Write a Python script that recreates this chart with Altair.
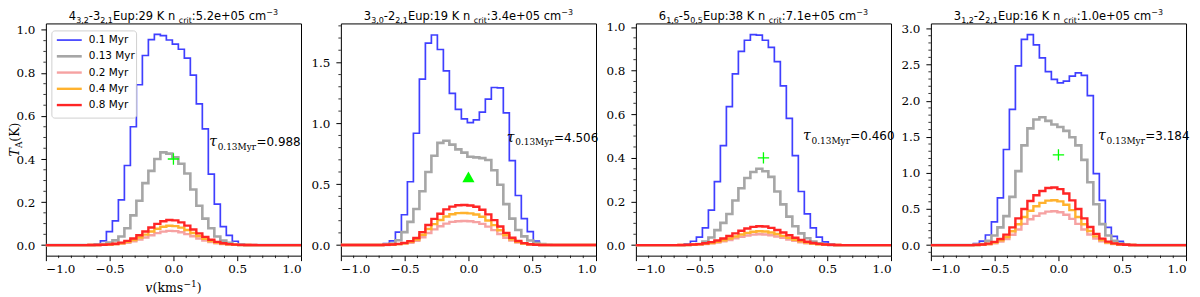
import altair as alt
import pandas as pd

# ---------------- data ----------------
V_CH = [-0.643, -0.596, -0.549, -0.502, -0.455, -0.408, -0.361, -0.314, -0.267, -0.220,
        -0.173, -0.126, -0.079, -0.032, 0.015, 0.062, 0.109, 0.156, 0.203, 0.250,
        0.297, 0.344, 0.391, 0.438, 0.485, 0.532, 0.579, 0.626]
V_EDGE_CH = [-0.690, 0.673]   # empty channels bounding the profiles
V_RANGE = [-1.0, 1.0]

AGES = ["0.1 Myr", "0.13 Myr", "0.2 Myr", "0.4 Myr", "0.8 Myr"]

# panel 1: 4(3,2)-3(2,1)
A_01 = [0.0, 0.005, 0.02, 0.063, 0.113, 0.21, 0.37, 0.55, 0.745, 0.881, 0.955, 0.979, 0.973, 0.953,
        0.934, 0.91, 0.869, 0.79, 0.656, 0.54, 0.33, 0.19, 0.086, 0.045, 0.018, 0.005, 0.0, 0.0]
A_013 = [0.0, 0.002, 0.005, 0.012, 0.022, 0.04, 0.078, 0.138, 0.206, 0.288, 0.345, 0.40, 0.431, 0.425,
         0.408, 0.378, 0.333, 0.258, 0.183, 0.123, 0.078, 0.04, 0.021, 0.011, 0.004, 0.001, 0.0, 0.0]
A_02 = [0.0002, 0.0004, 0.0009, 0.0018, 0.0036, 0.0065, 0.011, 0.0174, 0.0257, 0.0356, 0.046, 0.0555,
        0.0626, 0.0659, 0.0647, 0.0595, 0.0511, 0.0409, 0.0306, 0.0215, 0.014, 0.0085, 0.0049, 0.0026,
        0.0013, 0.0006, 0.0003, 0.0001]
A_04 = [0.0002, 0.0005, 0.0012, 0.0025, 0.0049, 0.0088, 0.015, 0.024, 0.035, 0.0485, 0.063, 0.076,
        0.085, 0.09, 0.088, 0.081, 0.07, 0.056, 0.042, 0.029, 0.019, 0.012, 0.0067, 0.0035, 0.0018,
        0.0008, 0.0004, 0.0001]
A_08 = [0.0003, 0.0007, 0.0016, 0.0032, 0.0063, 0.0115, 0.0194, 0.031, 0.0456, 0.063, 0.0815, 0.0984,
        0.111, 0.1168, 0.1148, 0.1054, 0.0905, 0.0725, 0.0543, 0.038, 0.0248, 0.0151, 0.0086, 0.0046,
        0.0023, 0.0011, 0.0005, 0.0002]

# panel 2: 3(3,0)-2(2,1)
B_01 = [0.012, 0.035, 0.106, 0.249, 0.52, 0.918, 1.363, 1.659, 1.725, 1.606, 1.43, 1.245, 1.115, 1.037,
        1.005, 1.028, 1.092, 1.198, 1.294, 1.29, 1.085, 0.693, 0.407, 0.217, 0.111, 0.032, 0.008, 0.0]
B_013 = [0.004, 0.013, 0.04, 0.106, 0.19, 0.296, 0.442, 0.60, 0.733, 0.839, 0.857, 0.825, 0.786, 0.759,
         0.725, 0.72, 0.714, 0.698, 0.614, 0.495, 0.336, 0.217, 0.124, 0.071, 0.037, 0.018, 0.008, 0.002]
B_02 = [0.001, 0.003, 0.006, 0.011, 0.019, 0.035, 0.064, 0.099, 0.129, 0.154, 0.176, 0.19, 0.196, 0.197,
        0.195, 0.188, 0.174, 0.151, 0.123, 0.091, 0.06, 0.036, 0.02, 0.01, 0.004, 0.002, 0.001, 0.0]
B_04 = [0.0016, 0.004, 0.008, 0.014, 0.026, 0.046, 0.085, 0.132, 0.172, 0.206, 0.234, 0.253, 0.262, 0.263,
        0.26, 0.251, 0.232, 0.202, 0.164, 0.122, 0.08, 0.048, 0.026, 0.013, 0.006, 0.002, 0.001, 0.0]
B_08 = [0.002, 0.005, 0.01, 0.018, 0.032, 0.058, 0.106, 0.165, 0.215, 0.257, 0.293, 0.316, 0.327, 0.329,
        0.325, 0.314, 0.29, 0.252, 0.205, 0.152, 0.1, 0.06, 0.033, 0.016, 0.007, 0.003, 0.001, 0.0]

# panel 3: 6(1,6)-5(0,5)
C_01 = [0.0, 0.006, 0.018, 0.037, 0.079, 0.161, 0.291, 0.456, 0.635, 0.785, 0.888, 0.939, 0.965, 0.962,
        0.939, 0.906, 0.841, 0.73, 0.581, 0.41, 0.246, 0.143, 0.079, 0.037, 0.015, 0.005, 0.0, 0.0]
C_013 = [0.0, 0.001, 0.002, 0.005, 0.017, 0.035, 0.069, 0.102, 0.143, 0.205, 0.261, 0.308, 0.335, 0.35,
         0.339, 0.313, 0.246, 0.187, 0.131, 0.087, 0.054, 0.032, 0.017, 0.009, 0.003, 0.001, 0.0, 0.0]
C_02 = [0.0004, 0.0009, 0.0016, 0.0029, 0.005, 0.008, 0.0122, 0.0176, 0.024, 0.0311, 0.038, 0.044,
        0.0482, 0.05, 0.049, 0.0455, 0.04, 0.0332, 0.0261, 0.0195, 0.0137, 0.0091, 0.0058, 0.0035,
        0.002, 0.001, 0.0005, 0.0003]
C_04 = [0.0005, 0.0011, 0.002, 0.0037, 0.0063, 0.0102, 0.0156, 0.0225, 0.0308, 0.0398, 0.0487, 0.0563,
        0.0617, 0.064, 0.0627, 0.0582, 0.0512, 0.0425, 0.0334, 0.0249, 0.0175, 0.0116, 0.0074, 0.0044,
        0.0025, 0.0013, 0.0007, 0.0003]
C_08 = [0.0007, 0.0015, 0.0028, 0.005, 0.0086, 0.0139, 0.0212, 0.0306, 0.0418, 0.0541, 0.0662, 0.0766,
        0.0839, 0.087, 0.0853, 0.0792, 0.0696, 0.0578, 0.0454, 0.0338, 0.0238, 0.0158, 0.01, 0.006,
        0.0034, 0.0018, 0.0009, 0.0004]

# panel 4: 3(1,2)-2(2,1)
D_01 = [0.02, 0.055, 0.14, 0.321, 0.655, 1.324, 1.881, 2.482, 2.848, 2.915, 2.772, 2.594, 2.402, 2.295,
        2.246, 2.27, 2.34, 2.384, 2.35, 2.07, 0.99, 0.619, 0.245, 0.12, 0.053, 0.018, 0.005, 0.0]
D_013 = [0.003, 0.013, 0.058, 0.134, 0.245, 0.401, 0.668, 1.025, 1.381, 1.617, 1.74, 1.77, 1.72, 1.671,
         1.635, 1.582, 1.493, 1.381, 1.18, 0.87, 0.566, 0.29, 0.134, 0.058, 0.022, 0.005, 0.001, 0.0]
D_02 = [0.002, 0.005, 0.012, 0.026, 0.05, 0.085, 0.144, 0.217, 0.294, 0.358, 0.405, 0.44, 0.464, 0.468,
        0.455, 0.42, 0.364, 0.294, 0.217, 0.147, 0.091, 0.053, 0.028, 0.014, 0.006, 0.003, 0.001, 0.0]
D_04 = [0.002, 0.006, 0.016, 0.035, 0.066, 0.113, 0.191, 0.289, 0.39, 0.476, 0.538, 0.585, 0.616, 0.622,
        0.605, 0.558, 0.484, 0.39, 0.289, 0.195, 0.121, 0.07, 0.037, 0.019, 0.009, 0.004, 0.002, 0.0]
D_08 = [0.003, 0.008, 0.02, 0.045, 0.085, 0.145, 0.245, 0.37, 0.5, 0.61, 0.69, 0.75, 0.79, 0.797,
        0.775, 0.715, 0.62, 0.5, 0.37, 0.25, 0.155, 0.09, 0.048, 0.024, 0.011, 0.005, 0.002, 0.0]

PANEL_SERIES = [
    [A_01, A_013, A_02, A_04, A_08],
    [B_01, B_013, B_02, B_04, B_08],
    [C_01, C_013, C_02, C_04, C_08],
    [D_01, D_013, D_02, D_04, D_08],
]

TITLE_LEVELS = [("4", "3,2", "3", "2,1"), ("3", "3,0", "2", "2,1"),
                ("6", "1,6", "5", "0,5"), ("3", "1,2", "2", "2,1")]
EUP = ["29", "19", "38", "16"]
NCRIT = ["5.2e+05", "3.4e+05", "7.1e+05", "1.0e+05"]
TAUS = ["0.988", "4.506", "0.460", "3.184"]
TAU_X = [0.28, 0.30, 0.31, 0.31]
TAU_Y = [0.46, 0.85, 0.48, 1.455]
MARK_Y = [0.40, 0.56, 0.40, 1.25]
MARK_KIND = ["plus", "triangle", "plus", "plus"]

Y_DOMAINS = [(-0.049, 1.03), (-0.087, 1.82), (-0.048, 1.016), (-0.146, 3.07)]
Y_MAJOR = [[0.0, 0.2, 0.4, 0.6, 0.8, 1.0], [0.0, 0.5, 1.0, 1.5],
           [0.0, 0.2, 0.4, 0.6, 0.8, 1.0], [0.0, 0.5, 1.0, 1.5, 2.0, 2.5, 3.0]]
Y_MINOR_STEP = [0.05, 0.1, 0.05, 0.1]
X_MAJOR = [-1.0, -0.5, 0.0, 0.5, 1.0]
X_MINOR = [-0.9, -0.8, -0.7, -0.6, -0.4, -0.3, -0.2, -0.1, 0.1, 0.2, 0.3, 0.4, 0.6, 0.7, 0.8, 0.9]

# ---------------- styling ----------------
COLORS = ["#3f3fff", "#a6a6a6", "#f6a2a2", "#ffb22e", "#ff2525"]
WIDTHS = [1.7, 2.6, 2.4, 2.4, 2.4]
W, H = 256, 233
NB = "\u00a0"
SERIF = "DejaVu Serif"
SANS = "DejaVu Sans"

SANS_EM = {**{d: 0.636 for d in "0123456789"}, ",": 0.318, ".": 0.318, " ": 0.318, NB: 0.318,
           "-": 0.361, ":": 0.337, "+": 0.838, "\u2212": 0.838, "E": 0.632, "K": 0.656, "u": 0.634,
           "p": 0.635, "n": 0.634, "c": 0.55, "r": 0.411, "i": 0.278, "t": 0.392, "e": 0.615, "m": 0.974}


def sans_w(s, fs):
    return sum(SANS_EM.get(ch, 0.6) for ch in s) * fs


for grp in PANEL_SERIES:
    for s in grp:
        assert len(s) == len(V_CH)

XS = alt.Scale(domain=V_RANGE, nice=False, zero=False)
one = pd.DataFrame({"a": [0]})


def make_panel(k):
    ys = alt.Scale(domain=list(Y_DOMAINS[k]), nice=False, zero=False)
    xax = alt.Axis(values=X_MAJOR, format=".1f", title=None, grid=False, domain=False,
                   tickSize=5, labelPadding=3, labelFont=SERIF, labelFontSize=12,
                   labelColor="black", tickColor="black")
    yax = alt.Axis(values=Y_MAJOR[k], format=".1f", title=None, grid=False, domain=False,
                   tickSize=5, labelPadding=6, labelFont=SERIF, labelFontSize=12,
                   labelColor="black", tickColor="black")
    layers = []
    vgrid = [V_RANGE[0], V_EDGE_CH[0]] + V_CH + [V_EDGE_CH[1], V_RANGE[1]]
    for j, vals in enumerate(PANEL_SERIES[k]):
        df = pd.DataFrame({"v": vgrid, "T": [0.0, 0.0] + list(vals) + [0.0, 0.0]})
        layers.append(alt.Chart(df).mark_line(interpolate="step", color=COLORS[j],
                                              strokeWidth=WIDTHS[j]).encode(
            x=alt.X("v:Q", scale=XS, axis=xax), y=alt.Y("T:Q", scale=ys, axis=yax)))
    # green marker
    mk = pd.DataFrame({"v": [0.0], "T": [MARK_Y[k]]})
    if MARK_KIND[k] == "plus":
        m = alt.Chart(mk).mark_point(shape="M-1,0H1M0,-1V1", size=130, filled=False,
                                     stroke="#00ff00", strokeWidth=1.3, opacity=1)
    else:
        m = alt.Chart(mk).mark_point(shape="triangle-up", size=150, filled=True,
                                     color="#00ff00", opacity=1)
    layers.append(m.encode(x=alt.X("v:Q", scale=XS, axis=xax), y=alt.Y("T:Q", scale=ys, axis=yax)))
    # tau annotation
    td = pd.DataFrame({"v": [TAU_X[k]], "T": [TAU_Y[k]]})
    tb = alt.Chart(td).encode(x=alt.X("v:Q", scale=XS, axis=xax), y=alt.Y("T:Q", scale=ys, axis=yax))
    layers.append(tb.mark_text(text="\u03c4", font=SERIF, fontStyle="italic", fontSize=14,
                               align="left", baseline="alphabetic", color="black"))
    layers.append(tb.mark_text(text="0.13Myr", font=SERIF, fontSize=9, align="left",
                               baseline="alphabetic", color="black", dx=8.5, dy=3.5))
    layers.append(tb.mark_text(text="=" + TAUS[k], font=SANS, fontSize=12, align="left",
                               baseline="alphabetic", color="black", dx=47.5))
    # minor ticks
    d0, d1 = Y_DOMAINS[k]
    st = Y_MINOR_STEP[k]
    ymin_vals = []
    i = int(d0 / st) - 1
    while i * st <= d1:
        val = round(i * st, 4)
        if d0 <= val <= d1 and all(abs(val - mj) > 1e-6 for mj in Y_MAJOR[k]):
            ymin_vals.append(val)
        i += 1
    layers.append(alt.Chart(pd.DataFrame({"m": ymin_vals})).mark_rule(color="black", strokeWidth=0.8).encode(
        y=alt.Y("m:Q", scale=ys, axis=yax), x=alt.value(-2.5), x2=alt.value(0)))
    layers.append(alt.Chart(pd.DataFrame({"m": X_MINOR})).mark_rule(color="black", strokeWidth=0.8).encode(
        x=alt.X("m:Q", scale=XS, axis=xax), y=alt.value(H), y2=alt.value(H + 2.5)))
    # panel title built from segments (sub/superscripts)
    lv = TITLE_LEVELS[k]
    segs = [(lv[0], 11.5, 0), (lv[1], 8, 2.5), ("-" + lv[2], 11.5, 0), (lv[3], 8, 2.5),
            (NB + "Eup:" + EUP[k] + NB + "K" + NB + "n", 11.5, 0), ("crit", 8, 2.5),
            (":" + NCRIT[k] + NB + "cm", 11.5, 0), ("\u22123", 8, -5)]
    total = sum(sans_w(s, fs) for s, fs, _ in segs)
    x0 = W / 2 - total / 2
    rows = []
    for s, fs, off in segs:
        rows.append({"txt": s, "px": x0, "py": -3 + off, "fs": fs})
        x0 += sans_w(s, fs)
    layers.append(alt.Chart(pd.DataFrame(rows)).mark_text(
        align="left", baseline="alphabetic", font=SANS, color="black").encode(
        x=alt.X("px:Q", scale=None), y=alt.Y("py:Q", scale=None),
        size=alt.Size("fs:Q", scale=None), text="txt:N"))

    if k == 0:
        # legend
        lg = pd.DataFrame({"lab": AGES, "col": COLORS, "w": WIDTHS,
                           "py": [16.7 + 16.3 * i for i in range(len(AGES))]})
        layers.append(alt.Chart(one).mark_rect(fill="white", stroke="#cccccc", strokeWidth=1,
                                               cornerRadius=3, opacity=0.9).encode(
            x=alt.value(6), x2=alt.value(91), y=alt.value(7.5), y2=alt.value(95)))
        layers.append(alt.Chart(lg).mark_rule().encode(
            x=alt.value(11), x2=alt.value(36), y=alt.Y("py:Q", scale=None),
            color=alt.Color("col:N", scale=None), strokeWidth=alt.StrokeWidth("w:Q", scale=None)))
        layers.append(alt.Chart(lg).mark_text(align="left", baseline="middle", font=SANS,
                                              fontSize=10.5, color="black").encode(
            x=alt.value(43), y=alt.Y("py:Q", scale=None), text="lab:N"))
        # y axis title  T_A(K)
        yb = H / 2 + 17
        layers.append(alt.Chart(one).mark_text(text="T", font=SERIF, fontStyle="italic",
                                               fontSize=12.5, angle=270, align="left",
                                               baseline="alphabetic", color="black").encode(
            x=alt.value(-27), y=alt.value(yb)))
        layers.append(alt.Chart(one).mark_text(text="A", font=SERIF, fontSize=9, angle=270,
                                               align="left", baseline="alphabetic", color="black").encode(
            x=alt.value(-24), y=alt.value(yb - 8.4)))
        layers.append(alt.Chart(one).mark_text(text="(K)", font=SERIF, fontSize=12.5, angle=270,
                                               align="left", baseline="alphabetic", color="black").encode(
            x=alt.value(-27), y=alt.value(yb - 14.9)))
        # x axis title  v(kms^-1)
        xb = W / 2 - 28.3
        yt = H + 36
        layers.append(alt.Chart(one).mark_text(text="v", font=SERIF, fontStyle="italic",
                                               fontSize=12.5, align="left", baseline="alphabetic",
                                               color="black").encode(x=alt.value(xb), y=alt.value(yt)))
        layers.append(alt.Chart(one).mark_text(text="(kms", font=SERIF, fontSize=12.5,
                                               align="left", baseline="alphabetic", color="black").encode(
            x=alt.value(xb + 7.4), y=alt.value(yt)))
        layers.append(alt.Chart(one).mark_text(text="\u22121", font=SERIF, fontSize=9,
                                               align="left", baseline="alphabetic", color="black").encode(
            x=alt.value(xb + 38.5), y=alt.value(yt - 5)))
        layers.append(alt.Chart(one).mark_text(text=")", font=SERIF, fontSize=12.5,
                                               align="left", baseline="alphabetic", color="black").encode(
            x=alt.value(xb + 51.8), y=alt.value(yt)))

    return alt.layer(*layers).properties(width=W, height=H)


panels = [make_panel(k) for k in range(4)]

chart = alt.hconcat(*panels, spacing=40, bounds="flush").properties(
    padding={"left": 0, "top": 0, "right": 0, "bottom": 0},
    background="white",
).configure_view(
    stroke="black", strokeWidth=1
).configure_axis(
    labelFont=SERIF, labelFontSize=12, labelColor="black",
    tickColor="black", tickWidth=1
)

chart.save("out.html", embed_options={"renderer": "svg", "actions": False})
